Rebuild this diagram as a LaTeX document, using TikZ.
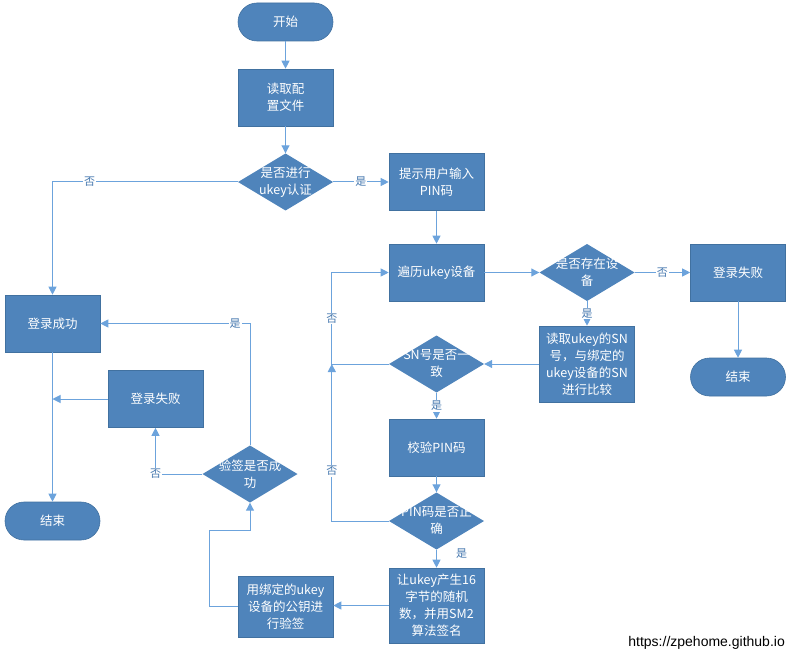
\documentclass[tikz,border=0pt]{standalone}
\usepackage{fontspec}
\setmainfont{Noto Sans CJK SC}
\newfontfamily\sitefont{Liberation Sans}
\usepackage{xcolor}
\usetikzlibrary{shapes,arrows.meta,positioning,calc}
\definecolor{boxblue}{RGB}{79,132,187}
\definecolor{boxedge}{RGB}{65,113,160}
\definecolor{lineblue}{RGB}{108,163,220}
\definecolor{labblue}{RGB}{70,120,175}

\begin{document}
\begin{tikzpicture}[x=1pt, y=-1pt,
    every node/.style={font=\fontsize{12.5}{17}\selectfont},
    box/.style={rectangle, fill=boxblue, draw=boxedge, line width=0.6pt, text=white, align=center,
        minimum width=95pt, minimum height=57pt, inner sep=0pt},
    term/.style={box, minimum height=38pt, rounded corners=19pt},
    decision/.style={rectangle, text=white, align=center, minimum width=95pt, minimum height=57pt, inner sep=0pt,
        path picture={\fill[boxblue] (path picture bounding box.north) -- (path picture bounding box.east)
            -- (path picture bounding box.south) -- (path picture bounding box.west) -- cycle;}},
    line/.style={draw=lineblue, line width=1pt, -{Triangle[length=8pt,width=8pt]}},
    lab/.style={fill=white, text=labblue, inner sep=1pt, font=\fontsize{11}{12}\selectfont}]
    \useasboundingbox (0,0) rectangle (791,652);

    % main column
    \node[term] (start) at (285.5,22) {开始};
    \node[box] (readcfg) at (285.5,97.5) {读取配\\置文件};
    \node[decision] (askukey) at (285.5,182) {是否进行\\ukey认证};

    % ukey branch
    \node[box] (prompt) at (436.5,182) {提示用户输入\\PIN码};
    \node[box] (scan) at (436.5,272.5) {遍历ukey设备};
    \node[decision] (hasdev) at (587,272.5) {是否存在设\\备};
    \node[box] (failR) at (738,272.5) {登录失败};
    \node[term] (endR) at (738,377) {结束};
    \node[box, minimum height=76pt] (readsn) at (587,364) {读取ukey的SN\\号，与绑定的\\ukey设备的SN\\进行比较};
    \node[decision] (snmatch) at (436.5,364) {SN号是否一\\致};
    \node[box] (checkpin) at (436.5,447.5) {校验PIN码};
    \node[decision] (pinok) at (436.5,521) {PIN码是否正\\确};
    \node[box, minimum height=75pt] (sign) at (436.5,605.5) {让ukey产生16\\字节的随机\\数，并用SM2\\算法签名};
    \node[box, minimum height=61pt] (verify) at (285.5,606.5) {用绑定的ukey\\设备的公钥进\\行验签};
    \node[decision] (verok) at (250,474) {验签是否成\\功};

    % left column
    \node[box] (failL) at (155.5,399) {登录失败};
    \node[box] (okL) at (52.5,323.5) {登录成功};
    \node[term] (endL) at (52.5,521) {结束};

    \node[font=\sitefont\fontsize{14}{16}\selectfont, anchor=base east, inner sep=0pt] (site) at (785,646) {https://zpehome.github.io};

    \coordinate (snjoin) at ($(snmatch.west)+(-57,0)$);
    \coordinate (vbend) at ($(verok.south)+(0,28)$);

    \draw[line] (start) -- (readcfg);
    \draw[line] (readcfg) -- (askukey);
    \draw[line] (askukey) -- node[lab]{是} (prompt);
    \draw[line] (askukey.west) -| node[lab, pos=0.4]{否} (okL.north);
    \draw[line] (prompt) -- (scan);
    \draw[line] (scan) -- (hasdev);
    \draw[line] (hasdev) -- node[lab]{否} (failR);
    \draw[line] (failR) -- (endR);
    \draw[line] (hasdev) -- node[lab]{是} (readsn);
    \draw[line] (readsn) -- (snmatch);
    \draw[line] (snmatch.west) -- (snjoin) |- node[lab, pos=0.25]{否} (scan.west);
    \draw[line] (snmatch) -- node[lab]{是} (checkpin);
    \draw[line] (checkpin) -- (pinok);
    \draw[line] (pinok.west) -| node[lab, pos=0.66]{否} (snjoin);
    \draw[line] (pinok) -- node[lab, pos=0.2, right=18pt]{是} (sign);
    \draw[line] (sign.west) -- (sign.west -| verify.east);
    \draw[line] (verify.west) -- ++(-28,0) |- (vbend) -- (verok.south);
    \draw[line] (verok.west) -| node[lab, pos=0.5]{否} (failL.south);
    \draw[line] (verok.north) |- node[lab, pos=0.55]{是} (okL.east);
    \draw[line] (failL.west) -- (failL.west -| okL.south);
    \draw[line] (okL) -- (endL);
\end{tikzpicture}
\end{document}
